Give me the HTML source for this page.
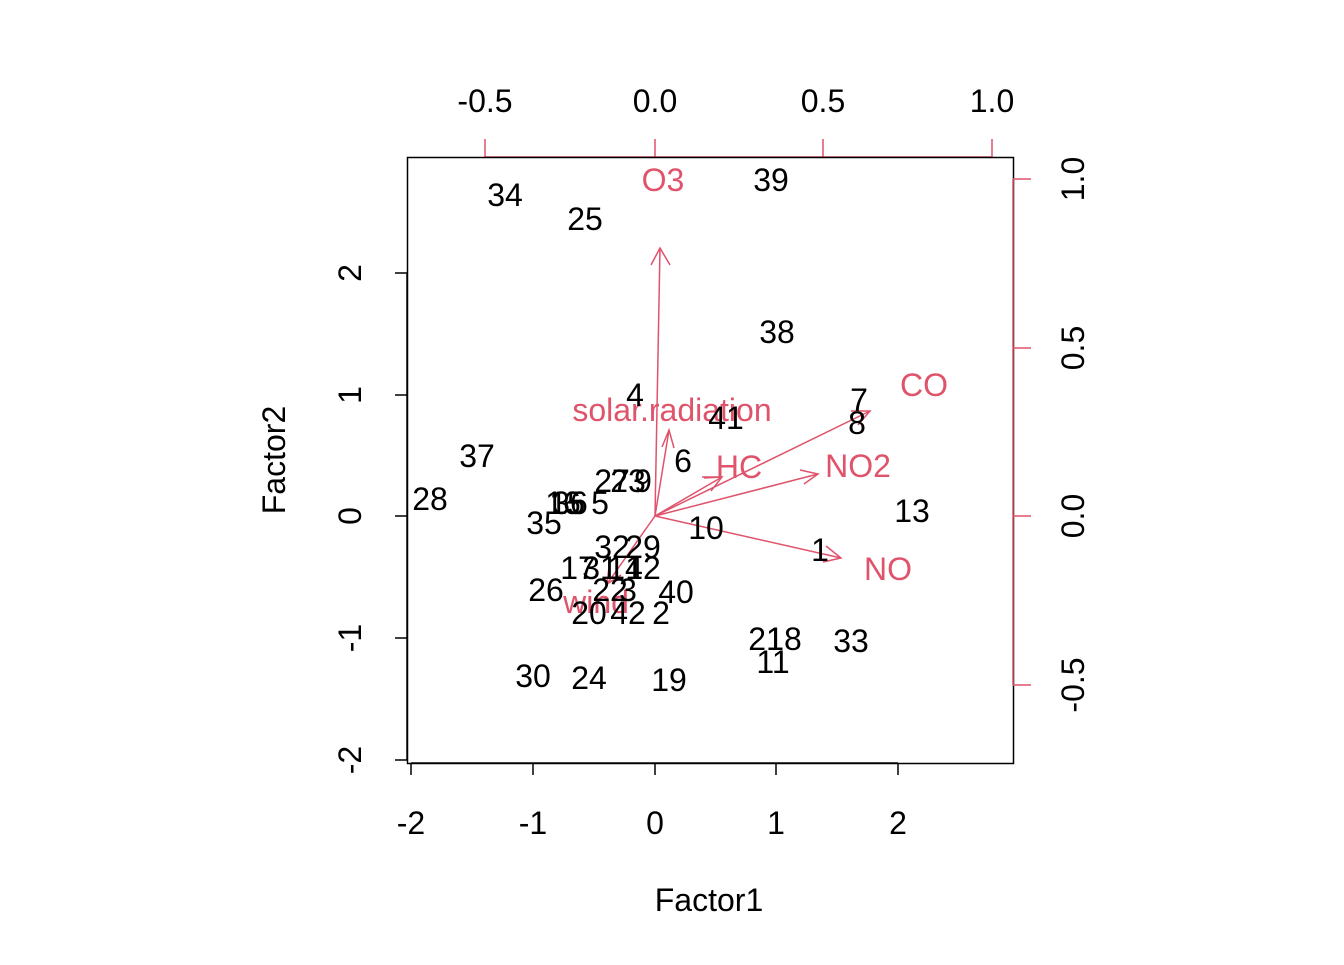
<!DOCTYPE html>
<html><head><style>body{margin:0;background:#fff}svg text{font-family:"Liberation Sans",Arial,sans-serif}</style></head><body>
<svg width="1344" height="960" xmlns="http://www.w3.org/2000/svg">
<rect width="1344" height="960" fill="#fff"/>
<g stroke="#DF536B" stroke-width="1.5" fill="none">
<line x1="485" y1="157" x2="992" y2="157"/>
<line x1="485" y1="157" x2="485" y2="139"/><line x1="655" y1="157" x2="655" y2="139"/><line x1="823" y1="157" x2="823" y2="139"/><line x1="992" y1="157" x2="992" y2="139"/>
</g>
<rect x="407.5" y="157.5" width="606" height="606" fill="none" stroke="#000" stroke-width="1.5"/>
<g stroke="#000" stroke-width="1.5">
<line x1="411" y1="763" x2="898" y2="763"/>
<line x1="411" y1="763" x2="411" y2="775"/><line x1="533" y1="763" x2="533" y2="775"/><line x1="655" y1="763" x2="655" y2="775"/><line x1="776" y1="763" x2="776" y2="775"/><line x1="898" y1="763" x2="898" y2="775"/>
<line x1="407" y1="273" x2="407" y2="760"/>
<line x1="395" y1="273" x2="407" y2="273"/><line x1="395" y1="395" x2="407" y2="395"/><line x1="395" y1="516" x2="407" y2="516"/><line x1="395" y1="638" x2="407" y2="638"/><line x1="395" y1="760" x2="407" y2="760"/>
</g>
<g font-size="32" text-anchor="middle" fill="#000">
<text x="411" y="834">-2</text><text x="533" y="834">-1</text><text x="655" y="834">0</text><text x="776" y="834">1</text><text x="898" y="834">2</text>
<text transform="translate(361,273) rotate(-90)">2</text><text transform="translate(361,395) rotate(-90)">1</text><text transform="translate(361,516) rotate(-90)">0</text><text transform="translate(361,638) rotate(-90)">-1</text><text transform="translate(361,760) rotate(-90)">-2</text>
<text x="709" y="911">Factor1</text>
<text transform="translate(285,460) rotate(-90)">Factor2</text>
<text x="485" y="112">-0.5</text><text x="655" y="112">0.0</text><text x="823" y="112">0.5</text><text x="992" y="112">1.0</text>
<text transform="translate(1084,179) rotate(-90)">1.0</text><text transform="translate(1084,348) rotate(-90)">0.5</text><text transform="translate(1084,516) rotate(-90)">0.0</text><text transform="translate(1084,685) rotate(-90)">-0.5</text>
</g>
<g stroke="#DF536B" stroke-width="1.5" fill="none">
<line x1="1013" y1="179" x2="1013" y2="685"/>
<line x1="1013" y1="179" x2="1031" y2="179"/><line x1="1013" y1="348" x2="1031" y2="348"/><line x1="1013" y1="516" x2="1031" y2="516"/><line x1="1013" y1="685" x2="1031" y2="685"/>
<line x1="655" y1="516" x2="660" y2="248"/><path d="M651,265 L660,248 L670,265"/>
<line x1="655" y1="516" x2="669" y2="430"/><path d="M662,447 L669,430 L674,448"/>
<line x1="655" y1="516" x2="722" y2="477"/><path d="M704,478 L722,477 L711,491"/>
<line x1="655" y1="516" x2="870" y2="411"/><path d="M851,411 L870,411 L858,425"/>
<line x1="655" y1="516" x2="818" y2="474"/><path d="M800,470 L818,474 L804,484"/>
<line x1="655" y1="516" x2="841" y2="558"/><path d="M826,546 L841,558 L823,562"/>
<line x1="655" y1="516" x2="607" y2="584"/><path d="M609,567 L607,584 L621,575"/>
<line x1="702" y1="477" x2="722" y2="477"/>
</g>
<g font-size="32" text-anchor="middle" fill="#DF536B">
<text x="663" y="191">O3</text><text x="672" y="421">solar.radiation</text><text x="739" y="478">HC</text><text x="858" y="477">NO2</text><text x="924" y="396">CO</text><text x="888" y="580">NO</text><text x="596" y="613">wind</text>
</g>
<g font-size="32" text-anchor="middle" fill="#000">
<text x="505" y="206">34</text><text x="585" y="230">25</text><text x="771" y="191">39</text><text x="777" y="343">38</text><text x="635" y="406">4</text><text x="726" y="429">41</text><text x="859" y="411">7</text><text x="857" y="434">8</text><text x="477" y="467">37</text><text x="683" y="472">6</text>
<text x="612" y="492">27</text><text x="628" y="492">23</text><text x="643" y="492">9</text>
<text x="430" y="510">28</text><text x="563" y="514">16</text><text x="567" y="514">15</text><text x="570" y="514">36</text><text x="600" y="514">5</text><text x="544" y="534">35</text><text x="912" y="522">13</text><text x="706" y="539">10</text>
<text x="612" y="558">32</text><text x="643" y="558">29</text><text x="820" y="561">1</text>
<text x="578" y="579">17</text><text x="600" y="579">31</text><text x="625" y="579">14</text><text x="643" y="579">12</text>
<text x="546" y="601">26</text><text x="610" y="601">22</text><text x="628" y="601">3</text><text x="676" y="603">40</text>
<text x="589" y="624">20</text><text x="628" y="624">42</text><text x="661" y="624">2</text>
<text x="766" y="650">21</text><text x="784" y="650">18</text><text x="851" y="652">33</text><text x="773" y="673">11</text>
<text x="533" y="687">30</text><text x="589" y="689">24</text><text x="669" y="691">19</text>
</g>
</svg>
</body></html>
